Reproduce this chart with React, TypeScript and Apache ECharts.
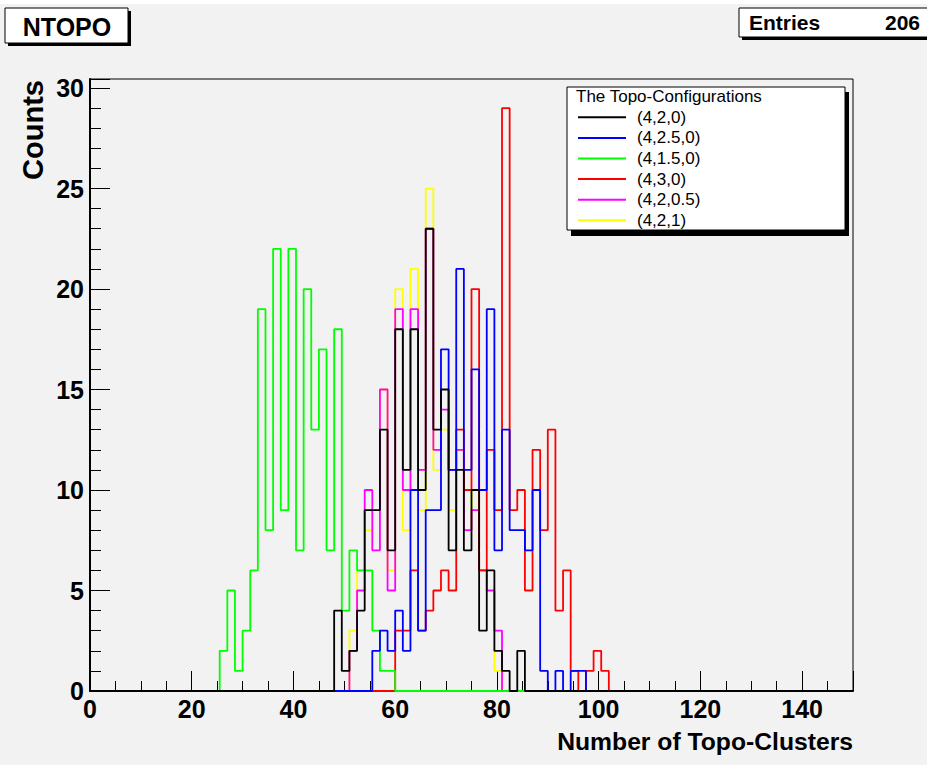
import React, { useEffect, useRef } from "react";
import * as echarts from "echarts";

// ---- histogram definition (100 bins from 0 to 150) ----
const X_MIN = 0;
const X_MAX = 150;
const N_BINS = 100;
const Y_MAX = 30.45;

const seriesNames = ["(4,2,0)", "(4,2.5,0)", "(4,1.5,0)", "(4,3,0)", "(4,2,0.5)", "(4,2,1)"];
const seriesColors = ["#000000", "#0000ff", "#00ff00", "#ff0000", "#ff00ff", "#ffff00"];

// first non-empty bin index of each histogram
const firstBins = [32, 37, 17, 40, 34, 34];

// bin contents, starting at firstBins[k]
const counts420 = [4, 1, 2, 4, 9, 9, 13, 7, 18, 11, 18, 10, 23, 13, 15, 7, 11, 7, 10, 3, 6, 2, 1, 0, 2];
const counts4250 = [2, 3, 2, 4, 2, 10, 3, 9, 9, 17, 11, 21, 11, 16, 10, 19, 7, 13, 8, 8, 7, 10, 1, 0, 1, 0, 1, 1];
const counts4150 = [2, 5, 1, 3, 6, 19, 8, 22, 9, 22, 7, 20, 13, 17, 7, 18, 4, 7, 6, 6, 3, 1, 1];
const counts430 = [3, 3, 6, 3, 4, 5, 6, 5, 13, 10, 20, 6, 12, 9, 29, 9, 10, 5, 12, 8, 13, 4, 6, 1, 0, 1, 2, 1];
const counts4205 = [2, 5, 10, 7, 15, 5, 19, 10, 19, 11, 23, 12, 14, 11, 12, 8, 9, 6, 5, 3];
const counts421 = [3, 6, 8, 9, 15, 6, 20, 8, 21, 9, 25, 11, 13, 9, 12, 8, 10, 6, 6, 1];

const allCounts = [counts420, counts4250, counts4150, counts430, counts4205, counts421];

const entriesLabel = "Entries";
const entriesValue = "206";
const histTitle = "NTOPO";
const legendTitle = "The Topo-Configurations";
const xTitle = "Number of Topo-Clusters";
const yTitle = "Counts";

const FONT = "'Liberation Sans', Arial, Helvetica, sans-serif";

function toSteps(first: number, counts: number[]): number[][] {
  const binW = (X_MAX - X_MIN) / N_BINS;
  const full = new Array(N_BINS).fill(0);
  counts.forEach((c, i) => {
    full[first + i] = c;
  });
  const pts = full.map((c, i) => [X_MIN + i * binW, c]);
  pts.push([X_MAX, full[N_BINS - 1]]);
  return pts;
}

export default function App() {
  const ref = useRef<HTMLDivElement>(null);

  useEffect(() => {
    if (!ref.current) return;
    const chart = echarts.init(ref.current, undefined, { renderer: "svg" });

    // draw order: black on top, yellow at the bottom
    const order = [5, 4, 3, 2, 1, 0];
    const series = order.map((k) => ({
      name: seriesNames[k],
      type: "line",
      step: "end",
      data: toSteps(firstBins[k], allCounts[k]),
      showSymbol: false,
      symbol: "none",
      silent: true,
      clip: true,
      lineStyle: { color: seriesColors[k], width: 1.8 },
      itemStyle: { color: seriesColors[k] },
    }));

    const option: any = {
      animation: false,
      backgroundColor: "#f2f2f2",
      grid: {
        left: 90,
        right: 74,
        top: 79,
        bottom: 74,
        show: true,
        borderColor: "#000",
        borderWidth: 1,
        backgroundColor: "transparent",
      },
      xAxis: [
        {
          type: "value",
          min: X_MIN,
          max: X_MAX,
          interval: 20,
          axisLine: { show: true, onZero: false, lineStyle: { color: "#000", width: 2 } },
          axisTick: { show: true, inside: true, length: 20, lineStyle: { color: "#000", width: 1 } },
          splitLine: { show: false },
          axisLabel: {
            show: true,
            margin: 5,
            color: "#000",
            fontFamily: FONT,
            fontWeight: "bold",
            fontSize: 25,
            formatter: (v: number) => (v % 20 === 0 ? String(v) : ""),
          },
        },
        {
          type: "value",
          min: X_MIN,
          max: X_MAX,
          interval: 5,
          position: "bottom",
          axisLine: { show: false },
          axisTick: { show: true, inside: true, length: 10, lineStyle: { color: "#000", width: 1 } },
          splitLine: { show: false },
          axisLabel: { show: false },
        },
      ],
      yAxis: [
        {
          type: "value",
          min: 0,
          max: Y_MAX,
          interval: 5,
          axisLine: { show: true, onZero: false, lineStyle: { color: "#000", width: 2 } },
          axisTick: { show: true, inside: true, length: 20, lineStyle: { color: "#000", width: 1 } },
          splitLine: { show: false },
          axisLabel: {
            show: true,
            margin: 6,
            color: "#000",
            fontFamily: FONT,
            fontWeight: "bold",
            fontSize: 25,
            formatter: (v: number) => (Math.abs(v % 5) < 1e-9 ? String(v) : ""),
          },
        },
        {
          type: "value",
          min: 0,
          max: Y_MAX,
          interval: 1,
          position: "left",
          axisLine: { show: false },
          axisTick: { show: true, inside: true, length: 11, lineStyle: { color: "#000", width: 1 } },
          splitLine: { show: false },
          axisLabel: { show: false },
        },
      ],
      legend: {
        data: seriesNames,
        orient: "vertical",
        left: 578,
        top: 107,
        padding: 0,
        icon: "rect",
        itemWidth: 48,
        itemHeight: 2,
        itemGap: 0,
        selectedMode: false,
        textStyle: {
          fontFamily: FONT,
          fontSize: 17,
          color: "#000",
          lineHeight: 20.6,
          padding: [0, 0, 0, 6],
        },
      },
      graphic: [
        { type: "rect", z: 0, shape: { x: 0, y: 0, width: 927, height: 4 }, style: { fill: "#ffffff" } },
        // title box
        { type: "rect", z: 3, shape: { x: 8, y: 11, width: 123, height: 35 }, style: { fill: "#000" } },
        { type: "rect", z: 3, shape: { x: 5, y: 8, width: 123, height: 35 }, style: { fill: "#fff", stroke: "#000", lineWidth: 1 } },
        {
          type: "text",
          z: 4,
          x: 67,
          y: 27,
          style: { text: histTitle, fill: "#000", font: `bold 25px ${FONT}`, align: "center", verticalAlign: "middle" },
        },
        // stats box
        { type: "rect", z: 3, shape: { x: 742, y: 11, width: 200, height: 29 }, style: { fill: "#000" } },
        { type: "rect", z: 3, shape: { x: 739, y: 8, width: 200, height: 29 }, style: { fill: "#fff", stroke: "#000", lineWidth: 1 } },
        {
          type: "text",
          z: 4,
          x: 749,
          y: 22,
          style: { text: entriesLabel, fill: "#000", font: `bold 21px ${FONT}`, align: "left", verticalAlign: "middle" },
        },
        {
          type: "text",
          z: 4,
          x: 920,
          y: 22,
          style: { text: entriesValue, fill: "#000", font: `bold 21px ${FONT}`, align: "right", verticalAlign: "middle" },
        },
        // legend box
        { type: "rect", z: 3, shape: { x: 571, y: 92, width: 278, height: 144 }, style: { fill: "#000" } },
        { type: "rect", z: 3, shape: { x: 567, y: 87, width: 278, height: 143 }, style: { fill: "#fff", stroke: "#000", lineWidth: 1 } },
        {
          type: "text",
          z: 4,
          x: 576,
          y: 96,
          style: { text: legendTitle, fill: "#000", font: `17px ${FONT}`, align: "left", verticalAlign: "middle" },
        },
        // axis titles
        {
          type: "text",
          z: 4,
          x: 853,
          y: 741,
          style: { text: xTitle, fill: "#000", font: `bold 24.7px ${FONT}`, align: "right", verticalAlign: "middle" },
        },
        {
          type: "text",
          z: 4,
          x: 33,
          y: 80,
          rotation: Math.PI / 2,
          style: { text: yTitle, fill: "#000", font: `bold 29px ${FONT}`, align: "right", verticalAlign: "middle" },
        },
      ],
      series,
    };

    chart.setOption(option);
    return () => {
      chart.dispose();
    };
  }, []);

  return (
    <div
      ref={ref}
      style={{ position: "fixed", left: 0, top: 0, width: 927, height: 765 }}
    />
  );
}
